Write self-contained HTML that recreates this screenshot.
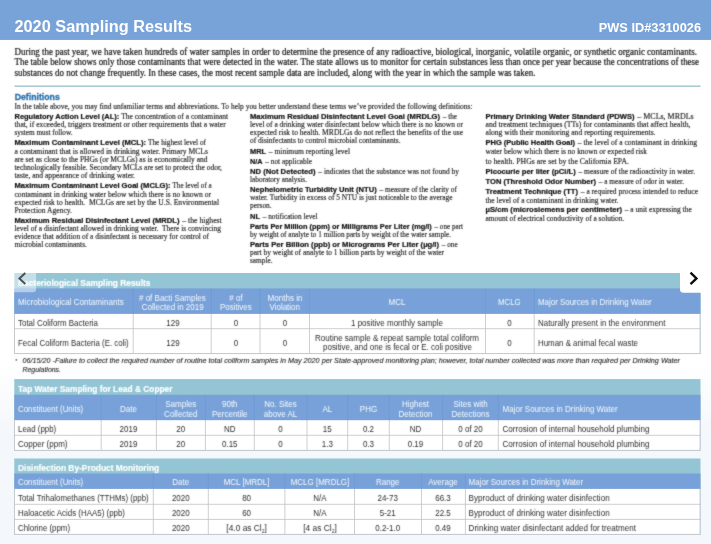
<!DOCTYPE html>
<html lang="en">
<head>
<meta charset="utf-8">
<title>2020 Sampling Results</title>
<style>
html,body{margin:0;padding:0;background:#fff;}
body{width:711px;height:544px;overflow:hidden;font-family:"Liberation Sans",sans-serif;}
svg{display:block;}
text{white-space:pre;}
.ttl{font:bold 17.2px "Liberation Sans",sans-serif;fill:#fff;}
.pws{font:bold 12.8px "Liberation Sans",sans-serif;fill:#fff;}
.in{font:9.5px "Liberation Serif",serif;fill:#202020;stroke:#202020;stroke-width:0.22px;}
.defh{font:bold 9.2px "Liberation Sans",sans-serif;fill:#2870ad;stroke:#2870ad;stroke-width:0.3px;}
.sf{font:7.6px "Liberation Serif",serif;fill:#2a2a2a;stroke:#2a2a2a;stroke-width:0.16px;}
.bd{font:bold 7.6px "Liberation Sans",sans-serif;fill:#161616;stroke:#161616;stroke-width:0.22px;}
.tt{font:bold 8.5px "Liberation Sans",sans-serif;fill:#fff;stroke:#fff;stroke-width:0.15px;}
.th{font:8.4px "Liberation Sans",sans-serif;fill:#fff;fill-opacity:0.93;}
.td{font:8.4px "Liberation Sans",sans-serif;fill:#303030;}
.fn{font:italic 7.3px "Liberation Sans",sans-serif;fill:#262626;stroke:#262626;stroke-width:0.1px;}
.ast{font:5.4px "Liberation Sans",sans-serif;fill:#222;}
.sub{font-size:5px;}
</style>
</head>
<body>
<svg width="711" height="544" viewBox="0 0 711 544">
<defs>
<linearGradient id="bg" gradientUnits="userSpaceOnUse" x1="0" y1="0" x2="0" y2="544">
<stop offset="0" stop-color="#ffffff"/>
<stop offset="0.66" stop-color="#ffffff"/>
<stop offset="0.8" stop-color="#f4f7fb"/>
<stop offset="1" stop-color="#f4f7fb"/>
</linearGradient>
<filter id="soft" filterUnits="userSpaceOnUse" x="-10" y="-10" width="731" height="564" color-interpolation-filters="sRGB">
<feConvolveMatrix order="3" kernelMatrix="0.03 0.08 0.03 0.08 0.58 0.08 0.03 0.08 0.03" divisor="1" edgeMode="duplicate" preserveAlpha="false"/>
</filter>
<filter id="plain" filterUnits="userSpaceOnUse" x="-10" y="-10" width="731" height="564" color-interpolation-filters="sRGB">
<feOffset dx="0" dy="0"/>
</filter>
</defs>
<g filter="url(#plain)">
<rect x="-10" y="-10" width="731" height="564" fill="url(#bg)"/>
<rect x="-10" y="-10" width="731" height="49.95" fill="#78a3d8"/>
<text class="ttl" x="14.5" y="32" textLength="177.5" lengthAdjust="spacingAndGlyphs">2020 Sampling Results</text>
<text class="pws" x="598.8" y="31.7" textLength="102.2" lengthAdjust="spacingAndGlyphs">PWS ID#3310026</text>
<rect x="14.5" y="85.55" width="686" height="1.2" fill="#8fb9c9"/>
<rect x="14.3" y="273" width="686.2" height="80.6" fill="#93c5d5"/>
<rect x="14.3" y="288.4" width="686.2" height="65.2" fill="#77a1d8"/>
<rect x="14.3" y="313.9" width="686.2" height="39.7" fill="#ffffff"/>
<line x1="133.2" y1="288.4" x2="133.2" y2="313.9" stroke="#6b99d4" stroke-width="0.7"/>
<line x1="211.2" y1="288.4" x2="211.2" y2="313.9" stroke="#6b99d4" stroke-width="0.7"/>
<line x1="260" y1="288.4" x2="260" y2="313.9" stroke="#6b99d4" stroke-width="0.7"/>
<line x1="309.5" y1="288.4" x2="309.5" y2="313.9" stroke="#6b99d4" stroke-width="0.7"/>
<line x1="485.5" y1="288.4" x2="485.5" y2="313.9" stroke="#6b99d4" stroke-width="0.7"/>
<line x1="534.2" y1="288.4" x2="534.2" y2="313.9" stroke="#6b99d4" stroke-width="0.7"/>
<line x1="14.3" y1="328.7" x2="700.5" y2="328.7" stroke="#c1c2c3" stroke-width="0.8"/>
<line x1="14.3" y1="353.6" x2="700.5" y2="353.6" stroke="#c1c2c3" stroke-width="0.8"/>
<line x1="14.5" y1="313.9" x2="14.5" y2="353.6" stroke="#c1c2c3" stroke-width="0.8"/>
<line x1="133.2" y1="313.9" x2="133.2" y2="353.6" stroke="#c1c2c3" stroke-width="0.8"/>
<line x1="211.2" y1="313.9" x2="211.2" y2="353.6" stroke="#c1c2c3" stroke-width="0.8"/>
<line x1="260" y1="313.9" x2="260" y2="353.6" stroke="#c1c2c3" stroke-width="0.8"/>
<line x1="309.5" y1="313.9" x2="309.5" y2="353.6" stroke="#c1c2c3" stroke-width="0.8"/>
<line x1="485.5" y1="313.9" x2="485.5" y2="353.6" stroke="#c1c2c3" stroke-width="0.8"/>
<line x1="534.2" y1="313.9" x2="534.2" y2="353.6" stroke="#c1c2c3" stroke-width="0.8"/>
<line x1="700" y1="313.9" x2="700" y2="353.6" stroke="#c1c2c3" stroke-width="0.8"/>
<rect x="14.3" y="379.1" width="686.2" height="71.3" fill="#93c5d5"/>
<rect x="14.3" y="394.8" width="686.2" height="55.6" fill="#77a1d8"/>
<rect x="14.3" y="420.2" width="686.2" height="30.2" fill="#ffffff"/>
<line x1="101.2" y1="394.8" x2="101.2" y2="420.2" stroke="#6b99d4" stroke-width="0.7"/>
<line x1="156.4" y1="394.8" x2="156.4" y2="420.2" stroke="#6b99d4" stroke-width="0.7"/>
<line x1="205.4" y1="394.8" x2="205.4" y2="420.2" stroke="#6b99d4" stroke-width="0.7"/>
<line x1="254.3" y1="394.8" x2="254.3" y2="420.2" stroke="#6b99d4" stroke-width="0.7"/>
<line x1="307" y1="394.8" x2="307" y2="420.2" stroke="#6b99d4" stroke-width="0.7"/>
<line x1="347.7" y1="394.8" x2="347.7" y2="420.2" stroke="#6b99d4" stroke-width="0.7"/>
<line x1="389.3" y1="394.8" x2="389.3" y2="420.2" stroke="#6b99d4" stroke-width="0.7"/>
<line x1="442.6" y1="394.8" x2="442.6" y2="420.2" stroke="#6b99d4" stroke-width="0.7"/>
<line x1="498.3" y1="394.8" x2="498.3" y2="420.2" stroke="#6b99d4" stroke-width="0.7"/>
<line x1="14.3" y1="435.3" x2="700.5" y2="435.3" stroke="#c1c2c3" stroke-width="0.8"/>
<line x1="14.3" y1="450.4" x2="700.5" y2="450.4" stroke="#c1c2c3" stroke-width="0.8"/>
<line x1="14.5" y1="420.2" x2="14.5" y2="450.4" stroke="#c1c2c3" stroke-width="0.8"/>
<line x1="101.2" y1="420.2" x2="101.2" y2="450.4" stroke="#c1c2c3" stroke-width="0.8"/>
<line x1="156.4" y1="420.2" x2="156.4" y2="450.4" stroke="#c1c2c3" stroke-width="0.8"/>
<line x1="205.4" y1="420.2" x2="205.4" y2="450.4" stroke="#c1c2c3" stroke-width="0.8"/>
<line x1="254.3" y1="420.2" x2="254.3" y2="450.4" stroke="#c1c2c3" stroke-width="0.8"/>
<line x1="307" y1="420.2" x2="307" y2="450.4" stroke="#c1c2c3" stroke-width="0.8"/>
<line x1="347.7" y1="420.2" x2="347.7" y2="450.4" stroke="#c1c2c3" stroke-width="0.8"/>
<line x1="389.3" y1="420.2" x2="389.3" y2="450.4" stroke="#c1c2c3" stroke-width="0.8"/>
<line x1="442.6" y1="420.2" x2="442.6" y2="450.4" stroke="#c1c2c3" stroke-width="0.8"/>
<line x1="498.3" y1="420.2" x2="498.3" y2="450.4" stroke="#c1c2c3" stroke-width="0.8"/>
<line x1="700" y1="420.2" x2="700" y2="450.4" stroke="#c1c2c3" stroke-width="0.8"/>
<rect x="14.3" y="458.5" width="686.2" height="75.9" fill="#93c5d5"/>
<rect x="14.3" y="473.5" width="686.2" height="60.9" fill="#77a1d8"/>
<rect x="14.3" y="488.9" width="686.2" height="45.5" fill="#ffffff"/>
<line x1="153.3" y1="473.5" x2="153.3" y2="488.9" stroke="#6b99d4" stroke-width="0.7"/>
<line x1="208.3" y1="473.5" x2="208.3" y2="488.9" stroke="#6b99d4" stroke-width="0.7"/>
<line x1="284.9" y1="473.5" x2="284.9" y2="488.9" stroke="#6b99d4" stroke-width="0.7"/>
<line x1="354.5" y1="473.5" x2="354.5" y2="488.9" stroke="#6b99d4" stroke-width="0.7"/>
<line x1="421.5" y1="473.5" x2="421.5" y2="488.9" stroke="#6b99d4" stroke-width="0.7"/>
<line x1="465.4" y1="473.5" x2="465.4" y2="488.9" stroke="#6b99d4" stroke-width="0.7"/>
<line x1="14.3" y1="504.3" x2="700.5" y2="504.3" stroke="#c1c2c3" stroke-width="0.8"/>
<line x1="14.3" y1="519.4" x2="700.5" y2="519.4" stroke="#c1c2c3" stroke-width="0.8"/>
<line x1="14.3" y1="534.4" x2="700.5" y2="534.4" stroke="#c1c2c3" stroke-width="0.8"/>
<line x1="14.5" y1="488.9" x2="14.5" y2="534.4" stroke="#c1c2c3" stroke-width="0.8"/>
<line x1="153.3" y1="488.9" x2="153.3" y2="534.4" stroke="#c1c2c3" stroke-width="0.8"/>
<line x1="208.3" y1="488.9" x2="208.3" y2="534.4" stroke="#c1c2c3" stroke-width="0.8"/>
<line x1="284.9" y1="488.9" x2="284.9" y2="534.4" stroke="#c1c2c3" stroke-width="0.8"/>
<line x1="354.5" y1="488.9" x2="354.5" y2="534.4" stroke="#c1c2c3" stroke-width="0.8"/>
<line x1="421.5" y1="488.9" x2="421.5" y2="534.4" stroke="#c1c2c3" stroke-width="0.8"/>
<line x1="465.4" y1="488.9" x2="465.4" y2="534.4" stroke="#c1c2c3" stroke-width="0.8"/>
<line x1="700" y1="488.9" x2="700" y2="534.4" stroke="#c1c2c3" stroke-width="0.8"/>
</g>
<g filter="url(#soft)">
<text class="in" x="14.5" y="54.7" textLength="682.5" lengthAdjust="spacingAndGlyphs">During the past year, we have taken hundreds of water samples in order to determine the presence of any radioactive, biological, inorganic, volatile organic, or synthetic organic contaminants.</text>
<text class="in" x="14.5" y="65.4" textLength="684.5" lengthAdjust="spacingAndGlyphs">The table below shows only those contaminants that were detected in the water. The state allows us to monitor for certain substances less than once per year because the concentrations of these</text>
<text class="in" x="14.5" y="76.3" textLength="521" lengthAdjust="spacingAndGlyphs">substances do not change frequently. In these cases, the most recent sample data are included, along with the year in which the sample was taken.</text>
<text class="defh" x="14.7" y="100.2" textLength="45.1" lengthAdjust="spacingAndGlyphs">Definitions</text>
<text class="sf" x="14.5" y="108.9" textLength="458" lengthAdjust="spacingAndGlyphs">In the table above, you may find unfamiliar terms and abbreviations. To help you better understand these terms we’ve provided the following definitions:</text>
<text class="bd" x="14.5" y="118.7" textLength="104.7" lengthAdjust="spacingAndGlyphs">Regulatory Action Level (AL):</text>
<text class="sf" x="121.2" y="118.7" textLength="107" lengthAdjust="spacingAndGlyphs">The concentration of a contaminant</text>
<text class="sf" x="14.5" y="127.45" textLength="211.2" lengthAdjust="spacingAndGlyphs">that, if exceeded, triggers treatment or other requirements that a water</text>
<text class="sf" x="14.5" y="135.25" textLength="58" lengthAdjust="spacingAndGlyphs">system must follow.</text>
<text class="bd" x="14.5" y="144.5" textLength="131.5" lengthAdjust="spacingAndGlyphs">Maximum Contaminant Level (MCL):</text>
<text class="sf" x="148" y="144.5" textLength="58" lengthAdjust="spacingAndGlyphs">The highest level of</text>
<text class="sf" x="14.5" y="154.05" textLength="193.5" lengthAdjust="spacingAndGlyphs">a contaminant that is allowed in drinking water. Primary MCLs</text>
<text class="sf" x="14.5" y="162.05" textLength="193" lengthAdjust="spacingAndGlyphs">are set as close to the PHGs (or MCLGs) as is economically and</text>
<text class="sf" x="14.5" y="170.05" textLength="207.5" lengthAdjust="spacingAndGlyphs">technologically feasible. Secondary MCLs are set to protect the odor,</text>
<text class="sf" x="14.5" y="178.05" textLength="120.5" lengthAdjust="spacingAndGlyphs">taste, and appearance of drinking water.</text>
<text class="bd" x="14.5" y="187.7" textLength="156" lengthAdjust="spacingAndGlyphs">Maximum Contaminant Level Goal (MCLG):</text>
<text class="sf" x="172.5" y="187.7" textLength="39.2" lengthAdjust="spacingAndGlyphs">The level of a</text>
<text class="sf" x="14.5" y="196.65" textLength="196.5" lengthAdjust="spacingAndGlyphs">contaminant in drinking water below which there is no known or</text>
<text class="sf" x="14.5" y="204.65" textLength="204.5" lengthAdjust="spacingAndGlyphs">expected risk to health.  MCLGs are set by the U.S. Environmental</text>
<text class="sf" x="14.5" y="212.65" textLength="57.5" lengthAdjust="spacingAndGlyphs">Protection Agency.</text>
<text class="bd" x="14.5" y="223" textLength="165" lengthAdjust="spacingAndGlyphs">Maximum Residual Disinfectant Level (MRDL)</text>
<text class="sf" x="182.3" y="223" textLength="39.4" lengthAdjust="spacingAndGlyphs">– the highest</text>
<text class="sf" x="14.5" y="231.15" textLength="206.5" lengthAdjust="spacingAndGlyphs">level of a disinfectant allowed in drinking water.  There is convincing</text>
<text class="sf" x="14.5" y="239.45" textLength="194.5" lengthAdjust="spacingAndGlyphs">evidence that addition of a disinfectant is necessary for control of</text>
<text class="sf" x="14.5" y="247.45" textLength="72.5" lengthAdjust="spacingAndGlyphs">microbial contaminants.</text>
<text class="bd" x="250" y="118.7" textLength="190" lengthAdjust="spacingAndGlyphs">Maximum Residual Disinfectant Level Goal (MRDLG)</text>
<text class="sf" x="442.8" y="118.7" textLength="14.2" lengthAdjust="spacingAndGlyphs">– the</text>
<text class="sf" x="250" y="127.45" textLength="213" lengthAdjust="spacingAndGlyphs">level of a drinking water disinfectant below which there is no known or</text>
<text class="sf" x="250" y="135.25" textLength="213" lengthAdjust="spacingAndGlyphs">expected risk to health. MRDLGs do not reflect the benefits of the use</text>
<text class="sf" x="250" y="143.05" textLength="150.5" lengthAdjust="spacingAndGlyphs">of disinfectants to control microbial contaminants.</text>
<text class="bd" x="250" y="153.8" textLength="16" lengthAdjust="spacingAndGlyphs">MRL</text>
<text class="sf" x="268.8" y="153.8" textLength="81.2" lengthAdjust="spacingAndGlyphs">– minimum reporting level</text>
<text class="bd" x="250" y="163.7" textLength="12.5" lengthAdjust="spacingAndGlyphs">N/A</text>
<text class="sf" x="265.3" y="163.7" textLength="46.7" lengthAdjust="spacingAndGlyphs">– not applicable</text>
<text class="bd" x="250" y="173.7" textLength="65.5" lengthAdjust="spacingAndGlyphs">ND (Not Detected)</text>
<text class="sf" x="318.3" y="173.7" textLength="140.7" lengthAdjust="spacingAndGlyphs">– indicates that the substance was not found by</text>
<text class="sf" x="250" y="182.45" textLength="57" lengthAdjust="spacingAndGlyphs">laboratory analysis.</text>
<text class="bd" x="250" y="191.5" textLength="126.7" lengthAdjust="spacingAndGlyphs">Nephelometric Turbidity Unit (NTU)</text>
<text class="sf" x="379.5" y="191.5" textLength="77.5" lengthAdjust="spacingAndGlyphs">– measure of the clarity of</text>
<text class="sf" x="250" y="200.05" textLength="202.5" lengthAdjust="spacingAndGlyphs">water. Turbidity in excess of 5 NTU is just noticeable to the average</text>
<text class="sf" x="250" y="208.25" textLength="21.7" lengthAdjust="spacingAndGlyphs">person.</text>
<text class="bd" x="250" y="218.8" textLength="10" lengthAdjust="spacingAndGlyphs">NL</text>
<text class="sf" x="262.8" y="218.8" textLength="54.7" lengthAdjust="spacingAndGlyphs">– notification level</text>
<text class="bd" x="250" y="228.6" textLength="181.7" lengthAdjust="spacingAndGlyphs">Parts Per Million (ppm) or Milligrams Per Liter (mg/l)</text>
<text class="sf" x="434.5" y="228.6" textLength="28.5" lengthAdjust="spacingAndGlyphs">– one part</text>
<text class="sf" x="250" y="236.95" textLength="201" lengthAdjust="spacingAndGlyphs">by weight of analyte to 1 million parts by weight of the water sample.</text>
<text class="bd" x="250" y="246.7" textLength="189" lengthAdjust="spacingAndGlyphs">Parts Per Billion (ppb) or Micrograms Per Liter (µg/l)</text>
<text class="sf" x="441.8" y="246.7" textLength="15.8" lengthAdjust="spacingAndGlyphs">– one</text>
<text class="sf" x="250" y="255.45" textLength="194" lengthAdjust="spacingAndGlyphs">part by weight of analyte to 1 billion parts by weight of the water</text>
<text class="sf" x="250" y="263.45" textLength="22.5" lengthAdjust="spacingAndGlyphs">sample.</text>
<text class="bd" x="485.5" y="118.7" textLength="149" lengthAdjust="spacingAndGlyphs">Primary Drinking Water Standard (PDWS)</text>
<text class="sf" x="637.3" y="118.7" textLength="56.4" lengthAdjust="spacingAndGlyphs">– MCLs, MRDLs</text>
<text class="sf" x="485.5" y="127.45" textLength="205" lengthAdjust="spacingAndGlyphs">and treatment techniques (TTs) for contaminants that affect health,</text>
<text class="sf" x="485.5" y="135.45" textLength="170" lengthAdjust="spacingAndGlyphs">along with their monitoring and reporting requirements.</text>
<text class="bd" x="485.5" y="144.5" textLength="89.5" lengthAdjust="spacingAndGlyphs">PHG (Public Health Goal)</text>
<text class="sf" x="577.8" y="144.5" textLength="119.2" lengthAdjust="spacingAndGlyphs">– the level of a contaminant in drinking</text>
<text class="sf" x="485.5" y="154.15" textLength="161.5" lengthAdjust="spacingAndGlyphs">water below which there is no known or expected risk</text>
<text class="sf" x="485.5" y="163.65" textLength="143.5" lengthAdjust="spacingAndGlyphs">to health. PHGs are set by the California EPA.</text>
<text class="bd" x="485.5" y="173.5" textLength="90.2" lengthAdjust="spacingAndGlyphs">Picocurie per liter (pCi/L)</text>
<text class="sf" x="578.5" y="173.5" textLength="116.5" lengthAdjust="spacingAndGlyphs">– measure of the radioactivity in water.</text>
<text class="bd" x="485.5" y="183.5" textLength="110.5" lengthAdjust="spacingAndGlyphs">TON (Threshold Odor Number)</text>
<text class="sf" x="598.8" y="183.5" textLength="85.2" lengthAdjust="spacingAndGlyphs">– a measure of odor in water.</text>
<text class="bd" x="485.5" y="194" textLength="92.5" lengthAdjust="spacingAndGlyphs">Treatment Technique (TT)</text>
<text class="sf" x="580.8" y="194" textLength="117.2" lengthAdjust="spacingAndGlyphs">– a required process intended to reduce</text>
<text class="sf" x="485.5" y="202.95" textLength="133" lengthAdjust="spacingAndGlyphs">the level of a contaminant in drinking water.</text>
<text class="bd" x="485.5" y="212" textLength="136.5" lengthAdjust="spacingAndGlyphs">µS/cm (microsiemens per centimeter)</text>
<text class="sf" x="624.8" y="212" textLength="66.9" lengthAdjust="spacingAndGlyphs">– a unit expressing the</text>
<text class="sf" x="485.5" y="221.05" textLength="138.8" lengthAdjust="spacingAndGlyphs">amount of electrical conductivity of a solution.</text>
<text class="tt" x="18" y="285.7" textLength="132.5" lengthAdjust="spacingAndGlyphs">Bacteriological Sampling Results</text>
<text class="th" x="18" y="305.4" textLength="105.7" lengthAdjust="spacingAndGlyphs">Microbiological Contaminants</text>
<text class="th" x="139" y="300.9" textLength="66.7" lengthAdjust="spacingAndGlyphs"># of Bacti Samples</text>
<text class="th" x="141.7" y="309.9" textLength="62" lengthAdjust="spacingAndGlyphs">Collected in 2019</text>
<text class="th" x="229.33" y="300.9" textLength="13.34" lengthAdjust="spacingAndGlyphs"># of</text>
<text class="th" x="220" y="309.9" textLength="31.7" lengthAdjust="spacingAndGlyphs">Positives</text>
<text class="th" x="267.5" y="300.9" textLength="35" lengthAdjust="spacingAndGlyphs">Months in</text>
<text class="th" x="269.5" y="309.9" textLength="30.5" lengthAdjust="spacingAndGlyphs">Violation</text>
<text class="th" x="388.55" y="305.4" textLength="16.89" lengthAdjust="spacingAndGlyphs">MCL</text>
<text class="th" x="498" y="305.4" textLength="22.7" lengthAdjust="spacingAndGlyphs">MCLG</text>
<text class="th" x="538" y="305.4" textLength="113.7" lengthAdjust="spacingAndGlyphs">Major Sources in Drinking Water</text>
<text class="td" x="18" y="326" textLength="80" lengthAdjust="spacingAndGlyphs">Total Coliform Bacteria</text>
<text class="td" x="166.33" y="326" textLength="13.35" lengthAdjust="spacingAndGlyphs">129</text>
<text class="td" x="233.78" y="326" textLength="4.45" lengthAdjust="spacingAndGlyphs">0</text>
<text class="td" x="282.78" y="326" textLength="4.45" lengthAdjust="spacingAndGlyphs">0</text>
<text class="td" x="351" y="326" textLength="92" lengthAdjust="spacingAndGlyphs">1 positive monthly sample</text>
<text class="td" x="507.28" y="326" textLength="4.45" lengthAdjust="spacingAndGlyphs">0</text>
<text class="td" x="538" y="326" textLength="127.5" lengthAdjust="spacingAndGlyphs">Naturally present in the environment</text>
<text class="td" x="18" y="346" textLength="110.7" lengthAdjust="spacingAndGlyphs">Fecal Coliform Bacteria (E. coli)</text>
<text class="td" x="166.33" y="346" textLength="13.35" lengthAdjust="spacingAndGlyphs">129</text>
<text class="td" x="233.78" y="346" textLength="4.45" lengthAdjust="spacingAndGlyphs">0</text>
<text class="td" x="282.78" y="346" textLength="4.45" lengthAdjust="spacingAndGlyphs">0</text>
<text class="td" x="315" y="341" textLength="164" lengthAdjust="spacingAndGlyphs">Routine sample &amp; repeat sample total coliform</text>
<text class="td" x="323.1" y="350.4" textLength="148.9" lengthAdjust="spacingAndGlyphs">positive, and one is fecal or E. coli positive</text>
<text class="td" x="507.28" y="346" textLength="4.45" lengthAdjust="spacingAndGlyphs">0</text>
<text class="td" x="538" y="346" textLength="100" lengthAdjust="spacingAndGlyphs">Human &amp; animal fecal waste</text>
<text class="ast" x="15.2" y="362.6">*</text>
<text class="fn" x="22.5" y="363.3" textLength="657.5" lengthAdjust="spacingAndGlyphs">06/15/20 -Failure to collect the required number of routine total coliform samples in May 2020 per State-approved monitoring plan; however, total number collected was more than required per Drinking Water</text>
<text class="fn" x="22.5" y="372.2" textLength="38.5" lengthAdjust="spacingAndGlyphs">Regulations.</text>
<text class="tt" x="18" y="392" textLength="154.5" lengthAdjust="spacingAndGlyphs">Tap Water Sampling for Lead &amp; Copper</text>
<text class="th" x="18" y="412.1" textLength="65.2" lengthAdjust="spacingAndGlyphs">Constituent (Units)</text>
<text class="th" x="120.05" y="412.1" textLength="16.9" lengthAdjust="spacingAndGlyphs">Date</text>
<text class="th" x="165.24" y="407.1" textLength="31.13" lengthAdjust="spacingAndGlyphs">Samples</text>
<text class="th" x="164.12" y="417" textLength="33.35" lengthAdjust="spacingAndGlyphs">Collected</text>
<text class="th" x="222.01" y="407.1" textLength="15.57" lengthAdjust="spacingAndGlyphs">90th</text>
<text class="th" x="212.01" y="417" textLength="35.58" lengthAdjust="spacingAndGlyphs">Percentile</text>
<text class="th" x="264.27" y="407.1" textLength="32.46" lengthAdjust="spacingAndGlyphs">No. Sites</text>
<text class="th" x="263.82" y="417" textLength="33.36" lengthAdjust="spacingAndGlyphs">above AL</text>
<text class="th" x="322.41" y="412.1" textLength="9.79" lengthAdjust="spacingAndGlyphs">AL</text>
<text class="th" x="359.83" y="412.1" textLength="17.34" lengthAdjust="spacingAndGlyphs">PHG</text>
<text class="th" x="401.94" y="407.1" textLength="27.13" lengthAdjust="spacingAndGlyphs">Highest</text>
<text class="th" x="398.6" y="417" textLength="33.8" lengthAdjust="spacingAndGlyphs">Detection</text>
<text class="th" x="453.38" y="407.1" textLength="34.24" lengthAdjust="spacingAndGlyphs">Sites with</text>
<text class="th" x="451.6" y="417" textLength="37.8" lengthAdjust="spacingAndGlyphs">Detections</text>
<text class="th" x="502.5" y="412.1" textLength="115.2" lengthAdjust="spacingAndGlyphs">Major Sources in Drinking Water</text>
<text class="td" x="18" y="432.1" textLength="38.2" lengthAdjust="spacingAndGlyphs">Lead (ppb)</text>
<text class="td" x="119.6" y="432.1" textLength="17.8" lengthAdjust="spacingAndGlyphs">2019</text>
<text class="td" x="176.35" y="432.1" textLength="8.9" lengthAdjust="spacingAndGlyphs">20</text>
<text class="td" x="224.02" y="432.1" textLength="11.56" lengthAdjust="spacingAndGlyphs">ND</text>
<text class="td" x="278.28" y="432.1" textLength="4.45" lengthAdjust="spacingAndGlyphs">0</text>
<text class="td" x="322.85" y="432.1" textLength="8.9" lengthAdjust="spacingAndGlyphs">15</text>
<text class="td" x="362.94" y="432.1" textLength="11.12" lengthAdjust="spacingAndGlyphs">0.2</text>
<text class="td" x="409.72" y="432.1" textLength="11.55" lengthAdjust="spacingAndGlyphs">ND</text>
<text class="td" x="458.27" y="432.1" textLength="24.47" lengthAdjust="spacingAndGlyphs">0 of 20</text>
<text class="td" x="502.5" y="432.1" textLength="147.1" lengthAdjust="spacingAndGlyphs">Corrosion of internal household plumbing</text>
<text class="td" x="18" y="447.4" textLength="49.5" lengthAdjust="spacingAndGlyphs">Copper (ppm)</text>
<text class="td" x="119.6" y="447.4" textLength="17.8" lengthAdjust="spacingAndGlyphs">2019</text>
<text class="td" x="176.35" y="447.4" textLength="8.9" lengthAdjust="spacingAndGlyphs">20</text>
<text class="td" x="222.01" y="447.4" textLength="15.57" lengthAdjust="spacingAndGlyphs">0.15</text>
<text class="td" x="278.28" y="447.4" textLength="4.45" lengthAdjust="spacingAndGlyphs">0</text>
<text class="td" x="321.74" y="447.4" textLength="11.12" lengthAdjust="spacingAndGlyphs">1.3</text>
<text class="td" x="362.94" y="447.4" textLength="11.12" lengthAdjust="spacingAndGlyphs">0.3</text>
<text class="td" x="407.71" y="447.4" textLength="15.57" lengthAdjust="spacingAndGlyphs">0.19</text>
<text class="td" x="458.27" y="447.4" textLength="24.47" lengthAdjust="spacingAndGlyphs">0 of 20</text>
<text class="td" x="502.5" y="447.4" textLength="147.1" lengthAdjust="spacingAndGlyphs">Corrosion of internal household plumbing</text>
<text class="tt" x="18" y="470.6" textLength="141.2" lengthAdjust="spacingAndGlyphs">Disinfection By-Product Monitoring</text>
<text class="th" x="18" y="485.4" textLength="65.2" lengthAdjust="spacingAndGlyphs">Constituent (Units)</text>
<text class="th" x="172.35" y="485.4" textLength="16.9" lengthAdjust="spacingAndGlyphs">Date</text>
<text class="th" x="223.63" y="485.4" textLength="45.93" lengthAdjust="spacingAndGlyphs">MCL [MRDL]</text>
<text class="th" x="290.66" y="485.4" textLength="58.67" lengthAdjust="spacingAndGlyphs">MCLG [MRDLG]</text>
<text class="th" x="375.91" y="485.4" textLength="23.58" lengthAdjust="spacingAndGlyphs">Range</text>
<text class="th" x="428.17" y="485.4" textLength="29.65" lengthAdjust="spacingAndGlyphs">Average</text>
<text class="th" x="468.6" y="485.4" textLength="114.6" lengthAdjust="spacingAndGlyphs">Major Sources in Drinking Water</text>
<text class="td" x="18" y="500.9" textLength="130.7" lengthAdjust="spacingAndGlyphs">Total Trihalomethanes (TTHMs) (ppb)</text>
<text class="td" x="171.9" y="500.9" textLength="17.8" lengthAdjust="spacingAndGlyphs">2020</text>
<text class="td" x="242.15" y="500.9" textLength="8.9" lengthAdjust="spacingAndGlyphs">80</text>
<text class="td" x="313.33" y="500.9" textLength="13.34" lengthAdjust="spacingAndGlyphs">N/A</text>
<text class="td" x="377.47" y="500.9" textLength="20.46" lengthAdjust="spacingAndGlyphs">24-73</text>
<text class="td" x="435.21" y="500.9" textLength="15.57" lengthAdjust="spacingAndGlyphs">66.3</text>
<text class="td" x="468.6" y="500.9" textLength="141.1" lengthAdjust="spacingAndGlyphs">Byproduct of drinking water disinfection</text>
<text class="td" x="18" y="515.9" textLength="107" lengthAdjust="spacingAndGlyphs">Haloacetic Acids (HAA5) (ppb)</text>
<text class="td" x="171.9" y="515.9" textLength="17.8" lengthAdjust="spacingAndGlyphs">2020</text>
<text class="td" x="242.15" y="515.9" textLength="8.9" lengthAdjust="spacingAndGlyphs">60</text>
<text class="td" x="313.33" y="515.9" textLength="13.34" lengthAdjust="spacingAndGlyphs">N/A</text>
<text class="td" x="379.69" y="515.9" textLength="16.01" lengthAdjust="spacingAndGlyphs">5-21</text>
<text class="td" x="435.21" y="515.9" textLength="15.57" lengthAdjust="spacingAndGlyphs">22.5</text>
<text class="td" x="468.6" y="515.9" textLength="141.1" lengthAdjust="spacingAndGlyphs">Byproduct of drinking water disinfection</text>
<text class="td" x="18" y="531.4" textLength="52" lengthAdjust="spacingAndGlyphs">Chlorine (ppm)</text>
<text class="td" x="171.9" y="531.4" textLength="17.8" lengthAdjust="spacingAndGlyphs">2020</text>
<text class="td" x="246.6" y="531.4" text-anchor="middle">[4.0 as Cl<tspan class="sub" dy="1.6">2</tspan><tspan dy="-1.6">]</tspan></text>
<text class="td" x="320" y="531.4" text-anchor="middle">[4 as Cl<tspan class="sub" dy="1.6">2</tspan><tspan dy="-1.6">]</tspan></text>
<text class="td" x="375.25" y="531.4" textLength="24.91" lengthAdjust="spacingAndGlyphs">0.2-1.0</text>
<text class="td" x="435.21" y="531.4" textLength="15.57" lengthAdjust="spacingAndGlyphs">0.49</text>
<text class="td" x="468.6" y="531.4" textLength="167.3" lengthAdjust="spacingAndGlyphs">Drinking water disinfectant added for treatment</text>
</g>
<g>
<path d="M14 268 H36.1 V289.3 Q36.1 292.3 33.1 292.3 H14 Z" fill="#ffffff" fill-opacity="0.46"/>
<polyline points="25.3,272.9 19.4,278.5 25.3,284.1" fill="none" stroke="#485356" stroke-width="2" stroke-linecap="butt" stroke-linejoin="miter"/>
<path d="M680 262 H725 V292.7 H683.5 Q680 292.7 680 289.2 Z" fill="#ffffff"/>
<polyline points="690.5,272.7 696.5,278.4 690.5,284.1" fill="none" stroke="#0a0a0a" stroke-width="2.3" stroke-linecap="butt" stroke-linejoin="miter"/>
</g>
</svg>
</body>
</html>
